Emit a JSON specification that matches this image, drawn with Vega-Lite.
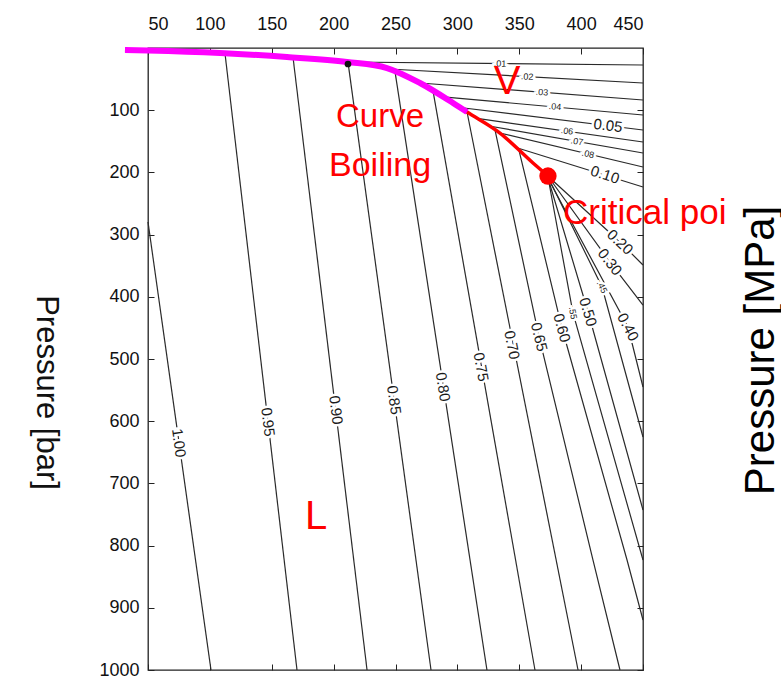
{
  "$schema": "https://vega.github.io/schema/vega-lite/v6.json",
  "width": 495,
  "height": 622,
  "autosize": "none",
  "padding": {"left": 148, "top": 48, "right": 138, "bottom": 11},
  "background": "white",
  "config": {"view": {"stroke": "#222", "strokeWidth": 1.3}, "font": "Liberation Sans"},
  "datasets": {
    "lines": [
      {"id": "L100", "o": 1, "T": 50, "P": 279.7}, {"id": "L100", "o": 2, "T": 100.9, "P": 1000},
      {"id": "L095", "o": 1, "T": 112.2, "P": 8.4}, {"id": "L095", "o": 2, "T": 170.4, "P": 1000},
      {"id": "L090", "o": 1, "T": 167.2, "P": 15.3}, {"id": "L090", "o": 2, "T": 227.0, "P": 1000},
      {"id": "L085", "o": 1, "T": 211.6, "P": 22.8}, {"id": "L085", "o": 2, "T": 278.7, "P": 1000},
      {"id": "L080", "o": 1, "T": 249.6, "P": 37.9}, {"id": "L080", "o": 2, "T": 323.9, "P": 1000},
      {"id": "L075", "o": 1, "T": 280.3, "P": 69.0}, {"id": "L075", "o": 2, "T": 362.7, "P": 1000},
      {"id": "L070", "o": 1, "T": 307.8, "P": 102.9}, {"id": "L070", "o": 2, "T": 397.5, "P": 1000},
      {"id": "L065", "o": 1, "T": 330.4, "P": 131.5}, {"id": "L065", "o": 2, "T": 366.0, "P": 464.6}, {"id": "L065", "o": 3, "T": 409.6, "P": 823.2}, {"id": "L065", "o": 4, "T": 431.4, "P": 1000},
      {"id": "L060", "o": 1, "T": 349.8, "P": 164.5}, {"id": "L060", "o": 2, "T": 384.5, "P": 450.2}, {"id": "L060", "o": 3, "T": 437.1, "P": 823.2}, {"id": "L060", "o": 4, "T": 450, "P": 919.6},
      {"id": "L055", "o": 1, "T": 373.2, "P": 207.4}, {"id": "L055", "o": 2, "T": 393.4, "P": 426.0}, {"id": "L055", "o": 3, "T": 450, "P": 823.2},
      {"id": "L050", "o": 1, "T": 373.2, "P": 209.0}, {"id": "L050", "o": 2, "T": 405.6, "P": 424.4}, {"id": "L050", "o": 3, "T": 450, "P": 742.8},
      {"id": "L045", "o": 1, "T": 374.0, "P": 210.6}, {"id": "L045", "o": 2, "T": 416.9, "P": 384.2}, {"id": "L045", "o": 3, "T": 450, "P": 625.4},
      {"id": "L040", "o": 1, "T": 374.0, "P": 212.2}, {"id": "L040", "o": 2, "T": 437.9, "P": 448.6}, {"id": "L040", "o": 3, "T": 450, "P": 545.0},
      {"id": "L030", "o": 1, "T": 374.8, "P": 210.6}, {"id": "L030", "o": 2, "T": 423.3, "P": 344.1}, {"id": "L030", "o": 3, "T": 450, "P": 413.2},
      {"id": "L020", "o": 1, "T": 374.8, "P": 209.0}, {"id": "L020", "o": 2, "T": 431.4, "P": 311.9}, {"id": "L020", "o": 3, "T": 450, "P": 348.9},
      {"id": "V001", "o": 1, "T": 210.8, "P": 22.5}, {"id": "V001", "o": 2, "T": 450, "P": 27.3},
      {"id": "V002", "o": 1, "T": 244.7, "P": 33.8}, {"id": "V002", "o": 2, "T": 450, "P": 56.3},
      {"id": "V003", "o": 1, "T": 269.8, "P": 56.3}, {"id": "V003", "o": 2, "T": 450, "P": 83.6},
      {"id": "V004", "o": 1, "T": 288.4, "P": 78.6}, {"id": "V004", "o": 2, "T": 450, "P": 107.7},
      {"id": "V005", "o": 1, "T": 302.1, "P": 95.7}, {"id": "V005", "o": 2, "T": 450, "P": 131.8},
      {"id": "V006", "o": 1, "T": 315.9, "P": 113.2}, {"id": "V006", "o": 2, "T": 450, "P": 151.1},
      {"id": "V007", "o": 1, "T": 325.6, "P": 125.4}, {"id": "V007", "o": 2, "T": 450, "P": 168.8},
      {"id": "V008", "o": 1, "T": 334.4, "P": 136.7}, {"id": "V008", "o": 2, "T": 450, "P": 191.3},
      {"id": "V010", "o": 1, "T": 347.4, "P": 160.0}, {"id": "V010", "o": 2, "T": 450, "P": 223.5}
    ],
    "labels": [
      {"t": "1.00", "T": 75.0, "P": 635.0, "a": 82, "s": 15},
      {"t": "0.95", "T": 147.0, "P": 601.3, "a": 83, "s": 15},
      {"t": "0.90", "T": 201.9, "P": 582.0, "a": 83, "s": 15},
      {"t": "0.85", "T": 248.8, "P": 565.9, "a": 82, "s": 15},
      {"t": "0.80", "T": 288.4, "P": 545.0, "a": 81, "s": 15},
      {"t": "0.75", "T": 319.1, "P": 512.9, "a": 80, "s": 15},
      {"t": "0.70", "T": 344.1, "P": 477.5, "a": 79, "s": 15},
      {"t": "0.65", "T": 366.0, "P": 464.6, "a": 76, "s": 15},
      {"t": "0.60", "T": 384.5, "P": 450.2, "a": 75, "s": 15},
      {"t": "0.50", "T": 405.6, "P": 424.4, "a": 73, "s": 15},
      {"t": "0.40", "T": 437.9, "P": 448.6, "a": 62, "s": 15},
      {"t": "0.30", "T": 423.3, "P": 344.1, "a": 52, "s": 15},
      {"t": "0.20", "T": 431.4, "P": 311.9, "a": 43, "s": 15},
      {"t": "0.10", "T": 419.3, "P": 203.7, "a": 18, "s": 15},
      {"t": "0.05", "T": 421.7, "P": 124.8, "a": 7, "s": 15},
      {"t": ".01", "T": 334.4, "P": 25.1, "a": 1, "s": 9},
      {"t": ".02", "T": 356.3, "P": 46.0, "a": 3, "s": 9},
      {"t": ".03", "T": 368.4, "P": 71.2, "a": 4, "s": 9},
      {"t": ".04", "T": 378.9, "P": 94.2, "a": 5, "s": 9},
      {"t": ".06", "T": 388.6, "P": 133.4, "a": 8, "s": 9},
      {"t": ".07", "T": 396.7, "P": 150.2, "a": 10, "s": 9},
      {"t": ".08", "T": 405.6, "P": 170.3, "a": 13, "s": 9},
      {"t": ".45", "T": 416.9, "P": 384.2, "a": 64, "s": 9},
      {"t": ".55", "T": 393.4, "P": 426.0, "a": 80, "s": 9}
    ],
    "curve": [
      {"o": 1, "T": 31.4, "P": 3.2},
      {"o": 2, "T": 50, "P": 4.0},
      {"o": 3, "T": 108.2, "P": 8.0},
      {"o": 4, "T": 162.3, "P": 14.5},
      {"o": 5, "T": 210.8, "P": 22.5},
      {"o": 6, "T": 243.1, "P": 32.2},
      {"o": 7, "T": 269.8, "P": 56.3},
      {"o": 8, "T": 296.5, "P": 88.4},
      {"o": 9, "T": 307.8, "P": 102.9},
      {"o": 10, "T": 334.4, "P": 136.7},
      {"o": 11, "T": 361.1, "P": 184.9},
      {"o": 12, "T": 373.2, "P": 205.8}
    ],
    "notes": [
      {"t": "Curve", "T": 237.5, "P": 110.9, "s": 33, "w": "normal"},
      {"t": "Boiling", "T": 237.5, "P": 189.7, "s": 34, "w": "normal"},
      {"t": "V", "T": 340.1, "P": 54.7, "s": 40, "w": "bold"},
      {"t": "L", "T": 185.8, "P": 754.0, "s": 40, "w": "bold"}
    ],
    "notesLeft": [
      {"t": "Critical poi", "T": 385.4, "P": 265.3, "s": 35}
    ]
  },
  "layer": [
    {
      "data": {"name": "lines"},
      "mark": {"type": "line", "color": "#2a2a2a", "strokeWidth": 1.2},
      "encoding": {
        "x": {"field": "T", "type": "quantitative", "scale": {"domain": [50, 450], "nice": false, "zero": false},
          "axis": {"orient": "top", "values": [50, 100, 150, 200, 250, 300, 350, 400, 450], "format": "d", "title": null, "domain": false, "grid": false,
            "tickSize": -6, "tickColor": "#222", "labelFontSize": 18, "labelColor": "#111", "labelPadding": 21, "labelFont": "Liberation Sans"}},
        "y": {"field": "P", "type": "quantitative", "scale": {"domain": [0, 1000], "reverse": true, "nice": false, "zero": false},
          "axis": {"orient": "left", "values": [100, 200, 300, 400, 500, 600, 700, 800, 900, 1000], "format": "d", "domain": false, "grid": false,
            "tickSize": -6, "tickColor": "#222", "labelFontSize": 18, "labelColor": "#111", "labelPadding": 15, "labelFont": "Liberation Sans",
            "title": "Pressure [bar]", "titleFontSize": 31, "titleFontWeight": "normal", "titleColor": "#111", "titleFont": "Liberation Sans",
            "titleAngle": 90, "titleX": -103, "titleY": 344, "titleAlign": "center", "titleBaseline": "middle"}},
        "detail": {"field": "id"},
        "order": {"field": "o", "type": "quantitative"}
      }
    },
    {
      "data": {"name": "labels"},
      "mark": {"type": "text", "fill": "white", "stroke": "white", "strokeWidth": 5, "baseline": "middle", "align": "center", "font": "Liberation Sans"},
      "encoding": {
        "x": {"field": "T", "type": "quantitative",
          "axis": {"orient": "bottom", "values": [50, 100, 150, 200, 250, 300, 350, 400, 450], "labels": false, "title": null, "domain": false, "grid": false, "tickSize": -6, "tickColor": "#222"}},
        "y": {"field": "P", "type": "quantitative",
          "axis": {"orient": "right", "values": [100, 200, 300, 400, 500, 600, 700, 800, 900, 1000], "labels": false, "domain": false, "grid": false, "tickSize": -6, "tickColor": "#222",
            "title": "Pressure [MPa]", "titleFontSize": 42, "titleFontWeight": "normal", "titleColor": "#000", "titleFont": "Liberation Sans",
            "titleAngle": 270, "titleX": 130, "titleY": 302, "titleAlign": "center", "titleBaseline": "alphabetic"}},
        "text": {"field": "t"},
        "angle": {"field": "a", "type": "quantitative", "scale": null},
        "size": {"field": "s", "type": "quantitative", "scale": null}
      }
    },
    {
      "data": {"name": "labels"},
      "mark": {"type": "text", "color": "#1a1a1a", "baseline": "middle", "align": "center", "font": "Liberation Sans"},
      "encoding": {
        "x": {"field": "T", "type": "quantitative", "axis": null},
        "y": {"field": "P", "type": "quantitative", "axis": null},
        "text": {"field": "t"},
        "angle": {"field": "a", "type": "quantitative", "scale": null},
        "size": {"field": "s", "type": "quantitative", "scale": null}
      }
    },
    {
      "data": {"name": "curve"},
      "mark": {"type": "line", "color": "#ff0000", "strokeWidth": 3.5, "interpolate": "monotone"},
      "encoding": {
        "x": {"field": "T", "type": "quantitative", "axis": null},
        "y": {"field": "P", "type": "quantitative", "axis": null},
        "order": {"field": "o", "type": "quantitative"}
      }
    },
    {
      "data": {"name": "curve"},
      "transform": [{"filter": "datum.o <= 9"}],
      "mark": {"type": "line", "color": "#ff00ff", "strokeWidth": 6, "interpolate": "monotone"},
      "encoding": {
        "x": {"field": "T", "type": "quantitative", "axis": null},
        "y": {"field": "P", "type": "quantitative", "axis": null},
        "order": {"field": "o", "type": "quantitative"}
      }
    },
    {
      "data": {"values": [{"T": 211.6, "P": 25.7}]},
      "mark": {"type": "point", "filled": true, "color": "#111", "size": 45, "opacity": 1},
      "encoding": {
        "x": {"field": "T", "type": "quantitative", "axis": null},
        "y": {"field": "P", "type": "quantitative", "axis": null}
      }
    },
    {
      "data": {"values": [{"T": 373.2, "P": 205.8}]},
      "mark": {"type": "point", "filled": true, "color": "#ff0000", "size": 300, "opacity": 1},
      "encoding": {
        "x": {"field": "T", "type": "quantitative", "axis": null},
        "y": {"field": "P", "type": "quantitative", "axis": null}
      }
    },
    {
      "data": {"name": "notes"},
      "mark": {"type": "text", "color": "#ff0000", "baseline": "middle", "align": "center", "font": "Liberation Sans"},
      "encoding": {
        "x": {"field": "T", "type": "quantitative", "axis": null},
        "y": {"field": "P", "type": "quantitative", "axis": null},
        "text": {"field": "t"},
        "size": {"field": "s", "type": "quantitative", "scale": null},
        "fontWeight": {"field": "w", "type": "nominal", "scale": null}
      }
    },
    {
      "data": {"name": "notesLeft"},
      "mark": {"type": "text", "color": "#ff0000", "baseline": "middle", "align": "left", "font": "Liberation Sans"},
      "encoding": {
        "x": {"field": "T", "type": "quantitative", "axis": null},
        "y": {"field": "P", "type": "quantitative", "axis": null},
        "text": {"field": "t"},
        "size": {"field": "s", "type": "quantitative", "scale": null}
      }
    }
  ],
  "resolve": {"axis": {"x": "independent", "y": "independent"}}
}
